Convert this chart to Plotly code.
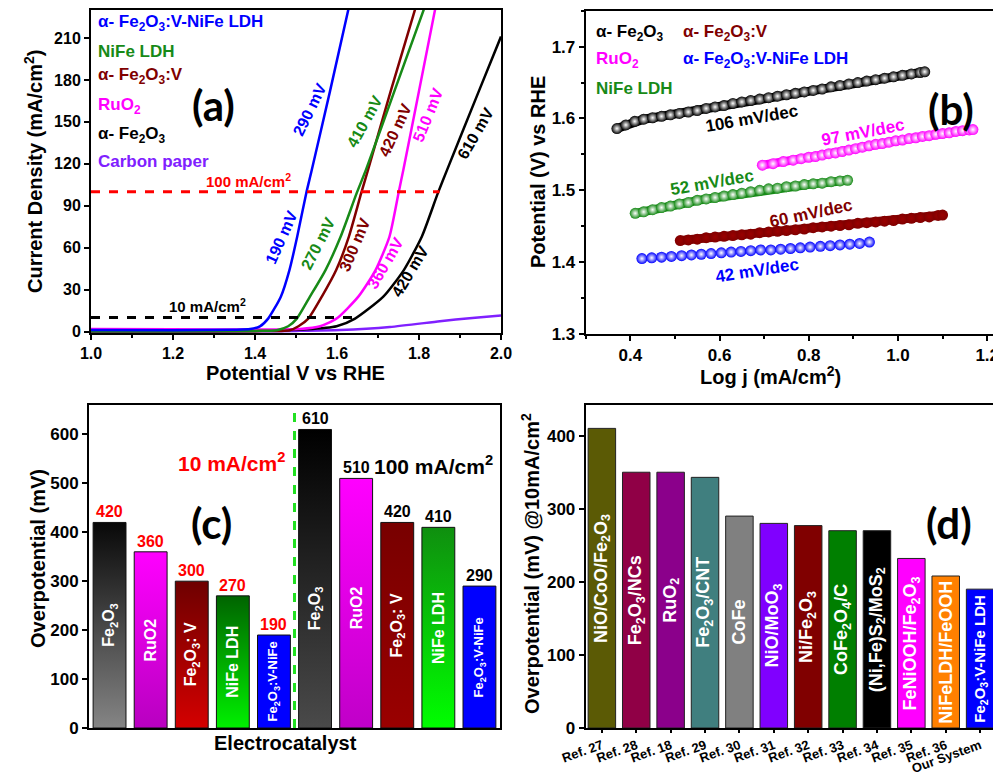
import plotly.graph_objects as go

FONT = "Liberation Sans"
LBL = "Lato"

# ---------------- Panel (a): LSV curves ----------------
V_ldh = [1.00, 1.20, 1.35, 1.388, 1.412, 1.432, 1.463, 1.484, 1.503, 1.525, 1.538, 1.583, 1.632]
J_ldh = [1.2, 1.0, 1.3, 1.8, 3.8, 9.3, 25, 44, 68, 99, 115, 172, 236]
V_nife = [1.00, 1.20, 1.40, 1.453, 1.481, 1.502, 1.534, 1.572, 1.609, 1.648, 1.671, 1.740, 1.815]
J_nife = [0.3, 0.3, 0.5, 1.0, 3.8, 9.3, 25, 44, 68, 99, 116, 172, 233]
V_fev = [1.00, 1.20, 1.40, 1.485, 1.506, 1.530, 1.563, 1.598, 1.629, 1.659, 1.676, 1.731, 1.793]
J_fev = [0.2, 0.2, 0.3, 1.0, 3.8, 9.3, 25, 44, 68, 99, 116, 172, 233]
V_ruo2 = [1.00, 1.20, 1.40, 1.51, 1.559, 1.599, 1.652, 1.694, 1.728, 1.750, 1.762, 1.800, 1.841]
J_ruo2 = [1.8, 1.6, 1.5, 1.9, 3.8, 9.3, 25, 44, 68, 99, 116, 172, 233]
V_fe = [1.00, 1.20, 1.40, 1.526, 1.599, 1.644, 1.713, 1.763, 1.807, 1.846, 1.869, 1.946, 2.00]
J_fe = [0.5, 0.5, 0.6, 1.6, 3.8, 9.3, 25, 44, 68, 99, 116, 172, 211]
V_cp = [1.00, 1.20, 1.40, 1.50, 1.607, 1.729, 1.851, 1.93, 2.00]
J_cp = [0.0, 0.0, 0.2, 0.5, 1.1, 3.3, 7.4, 9.8, 11.6]
ref_levels = [10, 100]
ref_ends = [1.64, 1.85]

# ---------------- Panel (b): Tafel ----------------
tx_fe = [0.37, 0.39, 0.41, 0.43, 0.45, 0.47, 0.49, 0.51, 0.53, 0.55, 0.57, 0.59, 0.61, 0.63, 0.65, 0.67, 0.69, 0.71,
         0.73, 0.75, 0.77, 0.79, 0.81, 0.83, 0.85, 0.87, 0.89, 0.91, 0.93, 0.95, 0.97, 0.99, 1.01, 1.03, 1.05, 1.06]
ty_fe = [1.586, 1.591, 1.596, 1.599, 1.601, 1.603, 1.605, 1.607, 1.609, 1.611, 1.614, 1.616, 1.618, 1.621, 1.623,
         1.625, 1.627, 1.629, 1.631, 1.633, 1.635, 1.637, 1.639, 1.641, 1.644, 1.646, 1.648, 1.650, 1.652, 1.654,
         1.656, 1.658, 1.660, 1.662, 1.664, 1.665]
tx_ruo2 = [0.696, 0.720, 0.743, 0.765, 0.783, 0.800, 0.815, 0.830, 0.845, 0.86, 0.875, 0.89, 0.905, 0.92, 0.935, 0.95,
           0.965, 0.98, 0.995, 1.01, 1.025, 1.04, 1.055, 1.07, 1.085, 1.10, 1.115, 1.13, 1.145, 1.16, 1.168]
ty_ruo2 = [1.535, 1.537, 1.540, 1.542, 1.544, 1.546, 1.547, 1.549, 1.551, 1.552, 1.554, 1.556, 1.558, 1.560, 1.562,
           1.564, 1.565, 1.567, 1.569, 1.570, 1.572, 1.573, 1.575, 1.576, 1.578, 1.579, 1.580, 1.582, 1.583, 1.584,
           1.5845]
tx_nife = [0.411, 0.43, 0.45, 0.47, 0.49, 0.51, 0.53, 0.55, 0.57, 0.59, 0.61, 0.63, 0.65, 0.67, 0.69, 0.71, 0.73,
           0.75, 0.77, 0.79, 0.81, 0.83, 0.85, 0.87, 0.887]
ty_nife = [1.468, 1.470, 1.473, 1.476, 1.478, 1.481, 1.483, 1.486, 1.488, 1.490, 1.492, 1.494, 1.496, 1.498, 1.500,
           1.502, 1.503, 1.505, 1.506, 1.508, 1.509, 1.510, 1.512, 1.513, 1.514]
tx_fev = [0.512, 0.53, 0.55, 0.57, 0.59, 0.61, 0.63, 0.65, 0.67, 0.69, 0.71, 0.73, 0.75, 0.77, 0.79, 0.81, 0.83, 0.85,
          0.87, 0.89, 0.91, 0.93, 0.95, 0.97, 0.99, 1.01, 1.03, 1.05, 1.07, 1.09, 1.10]
ty_fev = [1.430, 1.431, 1.432, 1.434, 1.435, 1.436, 1.437, 1.438, 1.439, 1.441, 1.442, 1.443, 1.444, 1.445, 1.446,
          1.448, 1.449, 1.450, 1.451, 1.452, 1.454, 1.455, 1.456, 1.457, 1.458, 1.460, 1.461, 1.462, 1.463, 1.465,
          1.4655]
tx_ldh = [0.426, 0.448, 0.470, 0.492, 0.515, 0.537, 0.559, 0.581, 0.604, 0.626, 0.648, 0.670, 0.692, 0.715, 0.737,
          0.759, 0.781, 0.803, 0.826, 0.848, 0.870, 0.892, 0.914, 0.936]
ty_ldh = [1.405, 1.406, 1.407, 1.408, 1.409, 1.410, 1.411, 1.412, 1.413, 1.414, 1.415, 1.416, 1.417, 1.417, 1.418,
          1.419, 1.420, 1.421, 1.422, 1.423, 1.424, 1.425, 1.426, 1.428]

# ---------------- Panel (c): overpotential bars ----------------
c_labels = ["Fe<sub>2</sub>O<sub>3</sub>", "RuO2", "Fe<sub>2</sub>O<sub>3</sub>: V", "NiFe LDH",
            "Fe<sub>2</sub>O<sub>3</sub>:V-NiFe"]
c_vals_10 = [420, 360, 300, 270, 190]
c_vals_100 = [610, 510, 420, 410, 290]
c_top_10 = ["#080808", "#ff00ff", "#6e0000", "#006400", "#0000ff"]
c_bot_10 = ["#858585", "#b800c0", "#d40000", "#00f000", "#0000ff"]
c_top_100 = ["#000000", "#ff00ff", "#780000", "#0f8f0f", "#0000ff"]
c_bot_100 = ["#4a4a4a", "#c000c8", "#9a0000", "#00ff00", "#0000ff"]

# ---------------- Panel (d): literature comparison ----------------
d_refs = ["Ref. 27", "Ref. 28", "Ref. 18", "Ref. 29", "Ref. 30", "Ref. 31", "Ref. 32", "Ref. 33", "Ref. 34",
          "Ref. 35", "Ref. 36", "Our System"]
d_names = ["NiO/CoO/Fe<sub>2</sub>O<sub>3</sub>", "Fe<sub>2</sub>O<sub>3</sub>/NCs", "RuO<sub>2</sub>",
           "Fe<sub>2</sub>O<sub>3</sub>/CNT", "CoFe", "NiO/MoO<sub>3</sub>", "Ni/Fe<sub>2</sub>O<sub>3</sub>",
           "CoFe<sub>2</sub>O<sub>4</sub>/C", "(Ni,Fe)S<sub>2</sub>/MoS<sub>2</sub>",
           "FeNiOOH/Fe<sub>2</sub>O<sub>3</sub>", "NiFeLDH/FeOOH", "Fe<sub>2</sub>O<sub>3</sub>:V-NiFe LDH"]
d_vals = [410, 350, 350, 343, 290, 280, 277, 270, 270, 232, 208, 190]
d_colors = ["#5b5a05", "#900046", "#8b008b", "#407f7f", "#808080", "#8000ff", "#800000", "#007f00", "#000000",
            "#ff00ff", "#ff8000", "#0000ff"]

BLUE, GREEN, BROWN, MAG, BLACK, PURP = "#0000ff", "#178a17", "#800000", "#ff00ff", "#000000", "#8020ff"

# page offset (browser body margin) and figure size
OFF = 8
W, H = 1001 - OFF, 778 - OFF


def X(p):
    return (p - OFF) / W


def Y(p):
    return 1 - (p - OFF) / H


fig = go.Figure()

# (a) curves
for V, J, col in [(V_cp, J_cp, PURP), (V_fe, J_fe, BLACK), (V_ruo2, J_ruo2, MAG), (V_fev, J_fev, BROWN),
                  (V_nife, J_nife, GREEN), (V_ldh, J_ldh, BLUE)]:
    fig.add_trace(go.Scatter(x=V, y=J, mode="lines", line=dict(color=col, width=2.5, shape="spline", smoothing=0.6),
                             xaxis="x", yaxis="y"))
for lev, end, col in zip(ref_levels, ref_ends, ["black", "#ff0000"]):
    fig.add_trace(go.Scatter(x=[1.0, end], y=[lev, lev], mode="lines",
                             line=dict(color=col, width=3, dash="dash"), xaxis="x", yaxis="y"))

# (b) Tafel
for tx, ty, col, dense in [(tx_fe, ty_fe, BLACK, True), (tx_ruo2, ty_ruo2, MAG, True), (tx_nife, ty_nife, GREEN, True),
                           (tx_fev, ty_fev, BROWN, True), (tx_ldh, ty_ldh, BLUE, False)]:
    if dense:
        fig.add_trace(go.Scatter(x=tx, y=ty, mode="lines", line=dict(color=col, width=9),
                                 xaxis="x2", yaxis="y2"))
    grad = "#9a0000" if col == BROWN else "white"
    fig.add_trace(go.Scatter(x=tx, y=ty, mode="markers",
                             marker=dict(size=11, color=col, gradient=dict(type="radial", color=grad),
                                         line=dict(width=0)),
                             xaxis="x2", yaxis="y2"))

# (c) gradient bars
HALF = 0.4
c_vals = c_vals_10 + c_vals_100
c_tops = c_top_10 + c_top_100
c_bots = c_bot_10 + c_bot_100
c_all_labels = c_labels + c_labels
for i, (v, tc, bc) in enumerate(zip(c_vals, c_tops, c_bots)):
    fig.add_trace(go.Scatter(x=[i - HALF, i - HALF, i + HALF, i + HALF, i - HALF], y=[0, v, v, 0, 0],
                             mode="lines", fill="toself", line=dict(color="#111111", width=1),
                             fillgradient=dict(type="vertical", colorscale=[[0, bc], [1, tc]]),
                             xaxis="x3", yaxis="y3"))

# (d) bars
fig.add_trace(go.Bar(x=list(range(len(d_vals))), y=d_vals, width=0.8, marker=dict(color=d_colors,
                     line=dict(color="#222222", width=1)), xaxis="x4", yaxis="y4"))

ann = []


def A(**kw):
    kw.setdefault("xanchor", "center")
    kw.setdefault("yanchor", "middle")
    kw.setdefault("showarrow", False)
    ann.append(kw)


# (a) legend texts
a_leg = [("α- Fe<sub>2</sub>O<sub>3</sub>:V-NiFe LDH", BLUE, 221), ("NiFe LDH", GREEN, 200.5),
         ("α- Fe<sub>2</sub>O<sub>3</sub>:V", BROWN, 183), ("RuO<sub>2</sub>", MAG, 161),
         ("α- Fe<sub>2</sub>O<sub>3</sub>", BLACK, 140.5), ("Carbon paper", PURP, 122)]
for t, c, y in a_leg:
    A(x=1.012, y=y, xref="x", yref="y", text=f"<b>{t}</b>", xanchor="left",
      font=dict(family=FONT, size=17, color=c))
A(x=1.298, y=162, xref="x", yref="y", text="<b>(a)</b>", font=dict(family=LBL, size=42))
A(x=1.383, y=108, xref="x", yref="y", text="<b>100 mA/cm<sup>2</sup></b>",
  font=dict(family=FONT, size=15, color="#ff0000"))
A(x=1.285, y=18.5, xref="x", yref="y", text="<b>10 mA/cm<sup>2</sup></b>",
  font=dict(family=FONT, size=15, color="black"))
a_rot = [("290 mV", BLUE, 1.534, 158.6, -64), ("190 mV", BLUE, 1.465, 67, -66),
         ("410 mV", GREEN, 1.668, 150, -61), ("270 mV", GREEN, 1.554, 63, -63),
         ("420 mV", BROWN, 1.741, 144, -65), ("300 mV", BROWN, 1.644, 62, -67),
         ("510 mV", MAG, 1.823, 155, -68), ("360 mV", MAG, 1.717, 49, -60),
         ("610 mV", BLACK, 1.937, 142, -60), ("420 mV", BLACK, 1.778, 43, -59)]
for t, c, x, y, ang in a_rot:
    A(x=x, y=y, xref="x", yref="y", text=f"<b>{t}</b>", textangle=ang,
      font=dict(family=FONT, size=16, color=c))

# (b) texts
b_leg = [("α- Fe<sub>2</sub>O<sub>3</sub>", BLACK, 0.318, 1.7187), ("α- Fe<sub>2</sub>O<sub>3</sub>:V", BROWN, 0.514, 1.7187),
         ("RuO<sub>2</sub>", MAG, 0.318, 1.681), ("α- Fe<sub>2</sub>O<sub>3</sub>:V-NiFe LDH", BLUE, 0.514, 1.681),
         ("NiFe LDH", GREEN, 0.318, 1.642)]
for t, c, x, y in b_leg:
    A(x=x, y=y, xref="x2", yref="y2", text=f"<b>{t}</b>", xanchor="left",
      font=dict(family=FONT, size=17, color=c))
A(x=1.119, y=1.613, xref="x2", yref="y2", text="<b>(b)</b>", font=dict(family=LBL, size=42))
b_rot = [("106 mV/dec", BLACK, 0.673, 1.600, -10), ("97 mV/dec", MAG, 0.921, 1.580, -11),
         ("52 mV/dec", GREEN, 0.584, 1.511, -10), ("60 mV/dec", BROWN, 0.804, 1.468, -12),
         ("42 mV/dec", BLUE, 0.685, 1.389, -9)]
for t, c, x, y, ang in b_rot:
    A(x=x, y=y, xref="x2", yref="y2", text=f"<b>{t}</b>", textangle=ang,
      font=dict(family=FONT, size=17, color=c))

# (c) texts
for i, (v, lab) in enumerate(zip(c_vals, c_all_labels)):
    A(x=i, y=v, xref="x3", yref="y3", text=f"<b>{v}</b>", yanchor="bottom",
      font=dict(family=FONT, size=16, color="#ff0000" if i < len(c_vals_10) else "black"))
    small = "V-NiFe" in lab
    A(x=i, y=min(v / 2, 245), xref="x3", yref="y3", text=f"<b>{lab}</b>", textangle=-90,
      font=dict(family=FONT, size=13 if small else 16, color="white"))
A(x=2.96, y=544, xref="x3", yref="y3", text="<b>10 mA/cm<sup>2</sup></b>",
  font=dict(family=FONT, size=21, color="#ff0000"))
A(x=7.87, y=537, xref="x3", yref="y3", text="<b>100 mA/cm<sup>2</sup></b>",
  font=dict(family=FONT, size=21, color="black"))
A(x=2.47, y=418, xref="x3", yref="y3", text="<b>(c)</b>", font=dict(family=LBL, size=42))

# (d) texts
for i, (v, nm) in enumerate(zip(d_vals, d_names)):
    small = "V-NiFe" in nm
    A(x=i, y=v / 2, xref="x4", yref="y4", text=f"<b>{nm}</b>", textangle=-90,
      font=dict(family=FONT, size=15 if small else 18, color="white"))
A(x=10.1, y=280, xref="x4", yref="y4", text="<b>(d)</b>", font=dict(family=LBL, size=42))

# axis titles
TF = dict(family=FONT, size=20, color="black")
A(x=X(34), y=Y(172), xref="paper", yref="paper", text="<b>Current Density (mA/cm<sup>2</sup>)</b>",
  textangle=-90, font=TF)
A(x=X(295), y=Y(373), xref="paper", yref="paper", text="<b>Potential V vs RHE</b>", font=TF)
A(x=X(538), y=Y(172), xref="paper", yref="paper", text="<b>Potential (V) vs RHE</b>", textangle=-90, font=TF)
A(x=X(770), y=Y(376), xref="paper", yref="paper", text="<b>Log j (mA/cm<sup>2</sup>)</b>", font=TF)
A(x=X(38), y=Y(559), xref="paper", yref="paper", text="<b>Overpotential (mV)</b>", textangle=-90, font=TF)
A(x=X(285), y=Y(743), xref="paper", yref="paper", text="<b>Electrocatalyst</b>", font=TF)
A(x=X(530), y=Y(564), xref="paper", yref="paper", text="<b>Overpotential (mV) @10mA/cm<sup>2</sup></b>",
  textangle=-90, font=TF)

fig.update_layout(annotations=ann)

# divider in (c)
fig.add_shape(type="line", x0=len(c_vals_10) - 0.5, x1=len(c_vals_10) - 0.5, y0=0, y1=1,
              xref="x3", yref="y3 domain", line=dict(color="#22e022", width=3, dash="dash"))

ax = dict(showline=True, linecolor="black", linewidth=2, mirror=True, ticks="outside", ticklen=5, tickwidth=1.5,
          tickcolor="black", showgrid=False, zeroline=False, automargin=False)
TK = dict(family=FONT, size=16, color="black", weight="bold")

fig.update_layout(
    width=W, height=H, margin=dict(l=0, r=0, t=0, b=0, autoexpand=False), showlegend=False,
    plot_bgcolor="white", paper_bgcolor="white", font=dict(family=FONT, color="black"),
    xaxis=dict(ax, domain=[X(91), X(501)], range=[1.0, 2.0], tick0=1.0, dtick=0.2, tickformat=".1f",
               minor=dict(dtick=0.1, ticks="outside", ticklen=3, tickcolor="black"), tickfont=TK, anchor="y"),
    yaxis=dict(ax, domain=[Y(333), Y(10)], range=[-1, 230], tick0=0, dtick=30, tickfont=TK, anchor="x"),
    xaxis2=dict(ax, domain=[X(585.7), X(997)], range=[0.3, 1.222], tick0=0.4, dtick=0.2, tickformat=".1f",
                minor=dict(dtick=0.1, ticks="outside", ticklen=3, tickcolor="black"),
                tickfont=dict(TK, size=17), anchor="y2"),
    yaxis2=dict(ax, domain=[Y(334), Y(10.7)], range=[1.3, 1.75], tick0=1.3, dtick=0.1, tickformat=".1f",
                minor=dict(dtick=0.05, ticks="outside", ticklen=3, tickcolor="black"),
                tickfont=dict(TK, size=17), anchor="x2"),
    xaxis3=dict(ax, domain=[X(89), X(500)], range=[-0.5, 9.5], showticklabels=False, ticks="", anchor="y3"),
    yaxis3=dict(ax, domain=[Y(728), Y(405)], range=[0, 660], tick0=0, dtick=100,
                tickfont=dict(TK, size=17), anchor="x3"),
    xaxis4=dict(ax, domain=[X(585.7), X(998)], range=[-0.47, 11.52], tickvals=list(range(len(d_refs))),
                ticktext=d_refs, tickangle=-20, ticklen=3, tickfont=dict(TK, size=13), anchor="y4"),
    yaxis4=dict(ax, domain=[Y(728), Y(405)], range=[0, 442], tick0=0, dtick=100,
                tickfont=dict(TK, size=17), anchor="x4"),
)

fig.write_html("out.html")
